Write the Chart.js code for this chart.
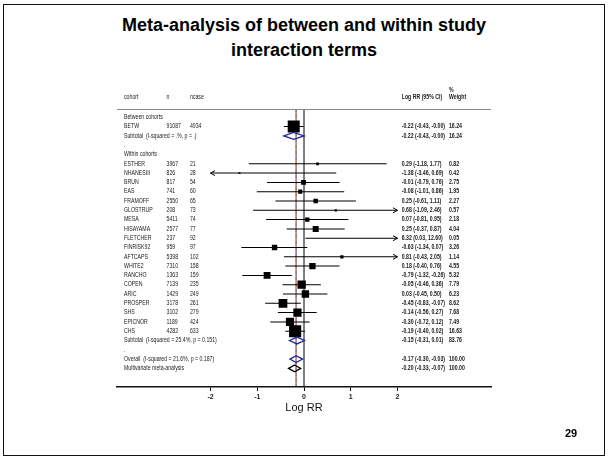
<!DOCTYPE html>
<html>
<head>
<meta charset="utf-8">
<title>Meta-analysis of between and within study interaction terms</title>
<script src="https://cdn.jsdelivr.net/npm/chart.js@4.4.0/dist/chart.umd.min.js"></script>
<style>
  html, body { margin: 0; padding: 0; background: #fff; }
  #slide { position: relative; width: 610px; height: 461px; overflow: hidden;
    font-family: "Liberation Sans", Arial, sans-serif; }
  #frame { position: absolute; left: 3px; top: 4px; width: 602px; height: 452px;
    box-sizing: border-box; border: 1.5px solid #111; }
  #title { position: absolute; left: 3px; top: 13px; width: 602px; text-align: center;
    font-weight: bold; font-size: 18px; line-height: 24.5px; color: #000; }
  #pageno { position: absolute; left: 565px; top: 427px; font-weight: bold;
    font-size: 11px; line-height: 13px; color: #000; }
  #forest { position: absolute; left: 0; top: 0; }
</style>
</head>
<body>
<div id="slide">
  <div id="frame"></div>
  <div id="title">Meta-analysis of between and within study<br>interaction terms</div>
  <canvas id="forest" width="610" height="461"></canvas>
  <div id="pageno">29</div>
</div>
<script>
// Individual cohorts (first entry is the between-cohort estimate)
const studyNames = ['BETW', 'ESTHER', 'NHANESIII', 'BRUN', 'EAS', 'FRAMOFF', 'GLOSTRUP', 'MESA',
  'HISAYAMA', 'FLETCHER', 'FINRISK92', 'AFTCAPS', 'WHITE2', 'RANCHO', 'COPEN', 'ARIC',
  'PROSPER', 'SHS', 'EPICNOR', 'CHS'];
const studyN = [91087, 3967, 826, 817, 741, 2550, 208, 5411, 2577, 237, 959, 5398, 7310, 1363,
  7139, 1429, 3178, 3102, 1189, 4282];
const studyCases = [4934, 21, 28, 54, 60, 65, 73, 74, 77, 92, 97, 102, 158, 159, 235, 249, 261,
  279, 424, 633];
const studyEst = [-0.22, 0.29, -1.38, -0.01, -0.08, 0.25, 0.68, 0.07, 0.25, 6.32, -0.63, 0.81,
  0.18, -0.79, -0.05, 0.03, -0.45, -0.14, -0.30, -0.19];
const studyLo = [-0.43, -1.18, -3.46, -0.79, -1.01, -0.61, -1.09, -0.81, -0.37, 0.03, -1.34, -0.43,
  -0.40, -1.32, -0.46, -0.45, -0.83, -0.56, -0.72, -0.40];
const studyHi = [-0.00, 1.77, 0.69, 0.76, 0.86, 1.11, 2.46, 0.95, 0.87, 12.60, 0.07, 2.05, 0.76,
  -0.26, 0.36, 0.50, -0.07, 0.27, 0.12, 0.02];
const studyWeight = [16.24, 0.82, 0.42, 2.75, 1.95, 2.27, 0.57, 2.18, 4.04, 0.05, 3.26, 1.14,
  4.55, 5.32, 7.79, 6.23, 8.62, 7.68, 7.49, 16.63];
const studyRows = [1, 5, 6, 7, 8, 9, 10, 11, 12, 13, 14, 15, 16, 17, 18, 19, 20, 21, 22, 23];

// Pooled estimates (diamonds)
const pooledLabels = ['Subtotal  (I-squared = .%, p = .)', 'Subtotal  (I-squared = 25.4%, p = 0.151)',
  'Overall  (I-squared = 21.6%, p = 0.187)', 'Multivariate meta-analysis'];
const pooledEst = [-0.22, -0.15, -0.17, -0.20];
const pooledLo = [-0.43, -0.31, -0.30, -0.33];
const pooledHi = [-0.00, 0.01, -0.03, -0.07];
const pooledWeight = [16.24, 83.76, 100.00, 100.00];
const pooledRows = [2, 24, 26, 27];
const pooledColors = ['#1f2a96', '#1f2a96', '#1f2a96', '#000000'];

// Group headings and blank separators
const groupLabels = ['Between cohorts', 'Within cohorts'];
const groupRows = [0, 4];
const dotRows = [3, 25];

// Axis
const tickValues = [-2, -1, 0, 1, 2];
const tickLabels = ['-2', '-1', '0', '1', '2'];
const plotLimit = 2; // CIs beyond this get an arrow

// Layout (x in axis units, y in row units)
const COL = { cohort: -3.85, n: -2.94, ncase: -2.44, ci: 2.09, weight: 3.1 };
const HEADER_ROW = -2.15;
const PCT_ROW = -2.95;
const RULE_ROW = -0.88;
const FONT = '"Liberation Sans", Arial, sans-serif';
const LEFT_FONT = '6.5px ' + FONT;
const RIGHT_FONT = 'bold 6.5px ' + FONT;

const fmt = v => (v < 0 || Object.is(v, -0)) ? '-' + Math.abs(v).toFixed(2) : v.toFixed(2);
const ciText = (e, lo, hi) => `${fmt(e)} (${fmt(lo)}, ${fmt(hi)})`;
const clip = v => Math.max(-plotLimit, Math.min(plotLimit, v));
// box area proportional to weight
const boxSide = w => 12 * Math.sqrt(w / 16.24);

function smallText(ctx, str, x, y, font) {
  ctx.save();
  ctx.font = font || LEFT_FONT;
  ctx.translate(x, y);
  ctx.scale(0.8, 1);
  ctx.fillText(str, 0, 0);
  ctx.restore();
}

const forestPlugin = {
  id: 'forest',
  beforeDatasetsDraw(chart) {
    const { ctx, chartArea, scales: { x, y } } = chart;
    const top = y.getPixelForValue(RULE_ROW);
    ctx.save();
    // null line
    ctx.strokeStyle = '#000';
    ctx.lineWidth = 1;
    ctx.beginPath();
    ctx.moveTo(x.getPixelForValue(0), top);
    ctx.lineTo(x.getPixelForValue(0), chartArea.bottom);
    ctx.stroke();
    // overall estimate line (dashed)
    const ox = x.getPixelForValue(pooledEst[2]);
    ctx.setLineDash([3, 3]);
    ctx.strokeStyle = '#222';
    ctx.beginPath();
    ctx.moveTo(ox, top);
    ctx.lineTo(ox, chartArea.bottom);
    ctx.stroke();
    ctx.lineDashOffset = 3;
    ctx.strokeStyle = '#b01818';
    ctx.beginPath();
    ctx.moveTo(ox, top);
    ctx.lineTo(ox, chartArea.bottom);
    ctx.stroke();
    ctx.restore();
  },
  afterDatasetsDraw(chart) {
    const { ctx, chartArea, scales: { x, y } } = chart;
    ctx.save();

    // arrows for truncated CIs
    ctx.strokeStyle = '#000';
    ctx.lineWidth = 1;
    studyRows.forEach((row, i) => {
      const py = y.getPixelForValue(row);
      [[studyHi[i] > plotLimit, plotLimit, -1], [studyLo[i] < -plotLimit, -plotLimit, 1]]
        .forEach(([hit, v, dir]) => {
          if (!hit) return;
          const px = x.getPixelForValue(v);
          ctx.beginPath();
          ctx.moveTo(px + dir * 4.5, py - 2.5);
          ctx.lineTo(px, py);
          ctx.lineTo(px + dir * 4.5, py + 2.5);
          ctx.stroke();
        });
    });

    // diamonds
    const half = Math.abs(y.getPixelForValue(0.37) - y.getPixelForValue(0));
    pooledRows.forEach((row, i) => {
      const py = y.getPixelForValue(row);
      ctx.strokeStyle = pooledColors[i];
      ctx.lineWidth = 1.3;
      ctx.beginPath();
      ctx.moveTo(x.getPixelForValue(pooledLo[i]), py);
      ctx.lineTo(x.getPixelForValue(pooledEst[i]), py - half);
      ctx.lineTo(x.getPixelForValue(pooledHi[i]), py);
      ctx.lineTo(x.getPixelForValue(pooledEst[i]), py + half);
      ctx.closePath();
      ctx.stroke();
    });

    // header rule
    ctx.strokeStyle = '#888';
    ctx.lineWidth = 1;
    const ry = Math.round(y.getPixelForValue(RULE_ROW)) + 0.5;
    ctx.beginPath();
    ctx.moveTo(chartArea.left, ry);
    ctx.lineTo(chartArea.right, ry);
    ctx.stroke();

    // table text
    ctx.fillStyle = '#1a1a1a';
    ctx.textBaseline = 'middle';
    ctx.textAlign = 'left';
    const cx = k => x.getPixelForValue(COL[k]);
    const hy = y.getPixelForValue(HEADER_ROW);
    smallText(ctx, 'cohort', cx('cohort'), hy);
    smallText(ctx, 'n', cx('n'), hy);
    smallText(ctx, 'ncase', cx('ncase'), hy);
    smallText(ctx, 'Log RR (95% CI)', cx('ci'), hy, RIGHT_FONT);
    smallText(ctx, 'Weight', cx('weight'), hy, RIGHT_FONT);
    smallText(ctx, '%', cx('weight'), y.getPixelForValue(PCT_ROW), RIGHT_FONT);

    groupRows.forEach((row, i) => smallText(ctx, groupLabels[i], cx('cohort'), y.getPixelForValue(row)));
    dotRows.forEach(row => smallText(ctx, '.', cx('cohort'), y.getPixelForValue(row)));

    studyRows.forEach((row, i) => {
      const py = y.getPixelForValue(row);
      smallText(ctx, studyNames[i], cx('cohort'), py);
      smallText(ctx, String(studyN[i]), cx('n'), py);
      smallText(ctx, String(studyCases[i]), cx('ncase'), py);
      smallText(ctx, ciText(studyEst[i], studyLo[i], studyHi[i]), cx('ci'), py, RIGHT_FONT);
      smallText(ctx, studyWeight[i].toFixed(2), cx('weight'), py, RIGHT_FONT);
    });

    pooledRows.forEach((row, i) => {
      const py = y.getPixelForValue(row);
      smallText(ctx, pooledLabels[i], cx('cohort'), py);
      smallText(ctx, ciText(pooledEst[i], pooledLo[i], pooledHi[i]), cx('ci'), py, RIGHT_FONT);
      smallText(ctx, pooledWeight[i].toFixed(2), cx('weight'), py, RIGHT_FONT);
    });

    ctx.restore();
  }
};

const canvas = document.getElementById('forest');
new Chart(canvas.getContext('2d'), {
  type: 'scatter',
  data: {
    datasets: [
      {
        type: 'scatter',
        label: 'Log RR',
        data: studyEst.map((v, i) => ({ x: v, y: studyRows[i] })),
        pointStyle: 'rect',
        pointRadius: studyWeight.map(w => boxSide(w) / Math.SQRT2),
        pointHoverRadius: studyWeight.map(w => boxSide(w) / Math.SQRT2),
        backgroundColor: '#000',
        borderWidth: 0,
        order: 0
      },
      {
        type: 'bar',
        label: '95% CI',
        indexAxis: 'y',
        data: studyLo.map((lo, i) => ({ y: studyRows[i], x: [clip(lo), clip(studyHi[i])] })),
        backgroundColor: '#000',
        borderWidth: 0,
        inflateAmount: 0,
        barThickness: 1,
        order: 1
      }
    ]
  },
  options: {
    responsive: false,
    animation: false,
    layout: { padding: { left: 117, right: 119, top: 89.4, bottom: 44 } },
    plugins: {
      legend: { display: false },
      tooltip: { enabled: false }
    },
    scales: {
      x: {
        type: 'linear',
        min: -4,
        max: 4,
        offset: false,
        afterBuildTicks: (scale) => {
          scale.ticks = tickValues.map(v => ({ value: v }));
        },
        afterFit: (scale) => { scale.height = 30; },
        grid: { drawOnChartArea: false, drawTicks: true, tickLength: 4, color: '#000', lineWidth: 1, offset: false },
        border: { display: true, color: '#111', width: 1.5 },
        ticks: {
          autoSkip: false,
          maxRotation: 0,
          padding: 2,
          color: '#222',
          font: { family: FONT, size: 7, weight: 'bold' },
          callback: (v, i) => tickLabels[i]
        },
        title: {
          display: true,
          text: 'Log RR',
          color: '#111',
          font: { family: FONT, size: 11 },
          padding: { top: 0, bottom: 2 }
        }
      },
      y: {
        type: 'linear',
        reverse: true,
        min: -3,
        max: 29,
        offset: false,
        display: false,
        grid: { offset: false }
      }
    }
  },
  plugins: [forestPlugin]
});
</script>
</body>
</html>
